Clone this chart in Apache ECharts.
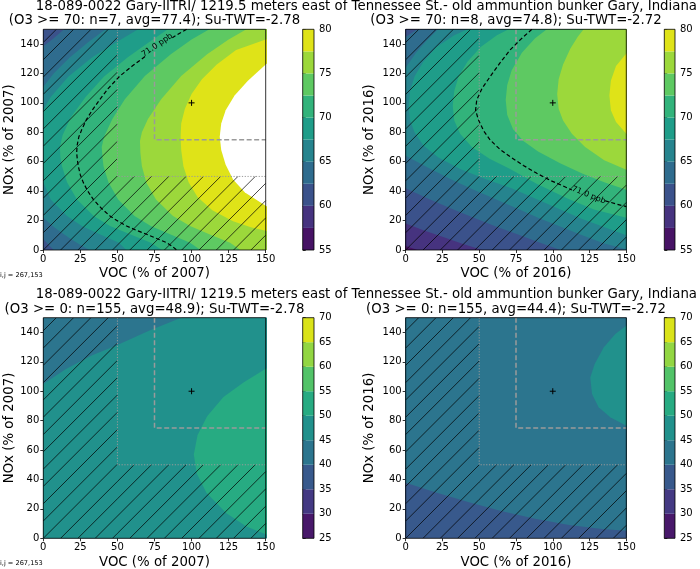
<!DOCTYPE html>
<html><head><meta charset="utf-8">
<script src="https://cdn.jsdelivr.net/npm/echarts@6.0.0/dist/echarts.min.js"></script>
<style>html,body{margin:0;padding:0;background:#fff}#c{width:700px;height:569px}</style>
</head><body><div id="c"></div>
<script>
// ---------- data ----------
const xTicks = [0, 25, 50, 75, 100, 125, 150];
const yTicks = [0, 20, 40, 60, 80, 100, 120, 140];
const levelsHi = [55, 57.5, 60, 62.5, 65, 67.5, 70, 72.5, 75, 77.5, 80];
const levelsAll = [25, 30, 35, 40, 45, 50, 55, 60, 65, 70];
const colorsHi = ["#471365","#46337f","#3b528b","#2f6c8e","#26848e","#1f9d89","#32b37b","#5ec962","#9cd83b","#dfe318"];
const colorsAll = ["#48186a","#443983","#38598c","#2c758e","#21918c","#27ab82","#52c368","#92d642","#dae319"];

const siteName = "18-089-0022 Gary-IITRI/ 1219.5 meters east of Tennessee St.- old ammuntion bunker Gary, Indiana";
const panelTitles = ["(O3 >= 70: n=7, avg=77.4); Su-TWT=-2.78", "(O3 >= 70: n=8, avg=74.8); Su-TWT=-2.72",
                     "(O3 >= 0: n=155, avg=48.9); Su-TWT=-2.78", "(O3 >= 0: n=155, avg=44.4); Su-TWT=-2.72"];
const xNames = ["VOC (% of 2007)", "VOC (% of 2016)", "VOC (% of 2007)", "VOC (% of 2016)"];
const yNames = ["NOx (% of 2007)", "NOx (% of 2016)", "NOx (% of 2007)", "NOx (% of 2016)"];
const contourLabel = "71.0 ppb";
const ijText = "i,j = 267,153";

const fullRect = [[-10,-10],[160,-10],[160,160],[-10,160]];

// Panel A (2007, O3>=70): outlines of regions with O3 >= level
const A_62_5 = [[22,165],[14,150],[7,144],[0,138.5],[-20,120],[-20,20],[0,7.5],[3.5,3.5],[7,0],[12,-10],[200,-10],[200,165]];
const A_65 = [[50,162],[42,150],[30,141],[18,131],[7,120],[0,111],[-20,95],[-20,35],[0,22],[8,15],[17,8.5],[24,4],[31,0],[37,-8],[200,-10],[200,165]];
const A_67_5 = [[72,158],[64,150],[49,141],[33,131],[17,118],[5,104],[0.5,96],[-3,90],[-5.5,78],[-6,68],[-5.5,60],[-2,50],[0,46],[5,34.4],[16,23.1],[26,16.3],[38,10.7],[51,5],[56,0],[62,-8],[200,-10],[200,160]];
const A_70 = [[92,158],[84,150],[71,141],[57,131],[41,118],[28.5,104],[18.5,90],[13,78],[11.2,70],[11.5,63],[12.6,57],[16,46],[22.7,34.4],[34,23.1],[45,16.3],[58.5,10.7],[72.5,5],[80,0],[86,-8],[200,-10],[200,160]];
const A_72_5 = [[122,158],[112,150],[100,143],[86,133],[68.5,118.3],[55,102.4],[46.5,88.8],[41,77],[39.4,70],[40,62],[40.6,57],[44,45.8],[50.5,34.4],[61.5,23.1],[72.5,16.3],[85.5,10.7],[99,5],[106,0],[112,-8],[200,-10],[200,160]];
const A_75 = [[146,158],[137,150],[125,143],[110.5,133],[93,118.3],[79.5,102.4],[70.5,88.8],[66.5,80],[65.2,74],[65.5,66],[66.5,57],[69.5,45.8],[76,34.4],[87.5,23.1],[99,16.3],[112,10.7],[126,5],[133,0],[140,-8],[200,-10],[200,160]];
const A_77_5 = [[165,148],[150,143],[130,136],[117,126],[107,116],[100,106],[95.5,96],[93,86],[92.6,77],[93,68],[94.5,57],[98,46],[104,36],[114,27],[128,19.5],[140,15.5],[150,13],[165,10],[200,-10],[200,160]];
const A_80 = [[165,138],[150,126],[138,115],[129,105],[123,95],[120,86],[119,77],[120,68],[123,58],[128,48],[136,39],[150,30],[165,22],[200,10],[200,150]];
const A_71a = [[96.7,150],[92,147.3],[87,144.3]];
const A_71b = [[68.6,131.5],[60,125],[51.7,118.3],[44,110],[38.2,102.4],[33,95],[29.2,88.8],[26,82],[24,77],[22.8,71],[22.5,66],[23,61],[23.6,57],[25,51],[27,45.8],[30,40],[33.7,34.4],[39,28.5],[45,23.1],[50.5,19.5],[56.2,16.3],[63,13.3],[69.7,10.7],[76.5,7.8],[83.2,5],[87,2.5],[90,0]];
const A_lab = [[76.8,139.2]];

// Panel B (2016, O3>=70)
const B_57_5 = [[-10,8],[0,2.7],[4,1.3],[8,0],[12,-10],[200,-10],[200,200],[-10,200]];
const B_60 = [[-10,22],[0,18],[12,13.5],[25,9],[38,4.5],[52,0],[56,-10],[200,-10],[200,200],[-10,200]];
const B_62_5 = [[12,165],[8,150],[4,147.5],[0,145],[-15,130],[-15,50],[0,42],[15,35],[30,28.5],[45,22.5],[60,16.5],[75,11],[90,5.5],[100,1.8],[105,0],[110,-10],[200,-10],[200,200],[12,200]];
const B_65 = [[28,160],[22,150],[14,142],[7,134],[0,124],[-15,110],[-15,75],[0,64],[15,56],[30,48.5],[45,41.5],[60,35],[75,28.5],[90,22],[105,16],[120,10],[135,4.5],[150,0.5],[165,-5],[200,-10],[200,200],[28,200]];
const B_67_5 = [[50,156],[42,150],[33,146],[21,138],[12,128],[6,118],[3,108],[2,98],[3,88],[6,80],[12,71],[22,63],[37,55],[55,48],[72,42],[95,32],[120,21],[150,10],[165,4],[200,-10],[200,200],[50,200]];
const B_70 = [[76,156],[70,150],[62,146],[51,138],[42,128],[36,118],[33,108],[32,98],[33,88],[37,79],[45,70],[57,62],[71,55],[89,45],[110,35],[128,27.5],[150,22],[165,17],[200,-10],[200,200],[76,200]];
const B_72_5 = [[102,155],[96,150],[88,144],[79,134],[72,122],[69,112],[68,102],[69,92],[73,82],[80,74],[90,67],[105,59],[120,52],[135,46],[150,41],[165,36],[200,-10],[200,200],[102,200]];
const B_75 = [[126,155],[121,150],[117,145],[112,137],[107,126],[104,116],[103,106],[104,96],[107,88],[113,79],[122,70],[135,61],[150,54.6],[165,49],[200,-10],[200,200],[126,200]];
const B_77_5 = [[165,140],[150,133.5],[143,125],[139.5,115],[138.5,105],[139.5,95],[143,87],[150,79],[165,70],[200,-10],[200,200]];
const B_71a = [[85.8,150],[78,143],[71,136],[64,127],[57.4,117.8],[52,110],[48.3,102],[47.5,95],[49.5,88.4],[53,81],[57.4,74.8],[64,68.5],[71,63.4],[80,57.5],[89.2,52.1],[99,47],[106,44],[113,40.8]];
const B_71b = [[135.5,33.5],[143,31.3],[150,29.5]];
const B_lab = [[124.4,37.3]];

// Panel C (2007, all days)
const C_45 = [[-10,98],[0,105],[15,115],[33,124.5],[50,131.5],[72,141.5],[93,150],[110,158],[200,158],[200,-10],[-10,-10]];
const C_50 = [[165,120],[150,115.3],[135,106],[121.5,96],[110.5,83],[104,70],[101.5,57],[103.5,44],[110,31],[123.5,17],[137,8],[150,2.7],[165,-3],[200,-20],[200,150]];

// Panel D (2016, all days)
const D_40 = [[-10,40],[0,37.8],[20,31.3],[43,24.5],[65.5,18.4],[88,13.3],[111,9.1],[133.5,6.3],[150,5.2],[165,5],[165,165],[-10,165]];
const D_45 = [[165,150],[150,144.6],[142.5,138.9],[134.6,129.8],[128.5,118.5],[125.5,109.4],[126.7,98.1],[131.2,89.1],[139.1,82.3],[150,76.6],[165,70],[200,60],[200,160]];

// reference boxes / base point / hatched area
const boxOuter = [[50,150],[50,50],[150,50]];
const boxInner = [[75,150],[75,75],[150,75]];
const basePoint = [[100,100]];
const hatchRects = [[[0,0],[50,150]], [[50,0],[150,50]]];

// ---------- layout (pixels) ----------
const mainGrids = [[43.3,29.3,222.4,220.7],[405.7,29.3,220.6,220.7],[43.3,317.7,222.4,220.6],[405.7,317.7,220.6,220.6]];
const cbGrids = [[302.7,29.3,11.3,220.7],[664.3,29.3,10.7,220.7],[302.7,317.7,11.3,220.6],[664.3,317.7,10.7,220.6]];
const yNameOffset = [34.1, 35.7, 34.1, 35.7];
const FONT = "DejaVu Sans";

const panels = [
  {levels: levelsHi, colors: colorsHi, base: 60, regions: [[62.5,A_62_5],[65,A_65],[67.5,A_67_5],[70,A_70],[72.5,A_72_5],[75,A_75],[77.5,A_77_5],[80,A_80]], c71: [A_71a, A_71b], lab: A_lab, labRot: 0.6},
  {levels: levelsHi, colors: colorsHi, base: 55, regions: [[57.5,B_57_5],[60,B_60],[62.5,B_62_5],[65,B_65],[67.5,B_67_5],[70,B_70],[72.5,B_72_5],[75,B_75],[77.5,B_77_5]], c71: [B_71a, B_71b], lab: B_lab, labRot: -0.38},
  {levels: levelsAll, colors: colorsAll, base: 40, regions: [[45,C_45],[50,C_50]], c71: null},
  {levels: levelsAll, colors: colorsAll, base: 35, regions: [[40,D_40],[45,D_45]], c71: null}
];

function colorFor(P, L) {
  const i = P.levels.indexOf(L);
  return (i >= 0 && i < P.colors.length) ? P.colors[i] : '#ffffff';
}

const grid = [], xAxis = [], yAxis = [], series = [], graphic = [];
mainGrids.forEach(g => grid.push({left: g[0], top: g[1], width: g[2], height: g[3], show: false}));
cbGrids.forEach(g => grid.push({left: g[0], top: g[1], width: g[2], height: g[3], show: false}));

panels.forEach((P, pi) => {
  xAxis.push({gridIndex: pi, type: 'value', min: 0, max: 150, interval: 25,
    axisLine: {show: false}, splitLine: {show: false},
    axisTick: {show: true, inside: false, length: 3, customValues: xTicks, lineStyle: {color: '#000', width: 0.8}},
    axisLabel: {fontSize: 10, color: '#000', margin: 4, fontFamily: FONT, customValues: xTicks}});
  yAxis.push({gridIndex: pi, type: 'value', min: 0, max: 150, interval: 10,
    axisLine: {show: false}, splitLine: {show: false},
    axisTick: {show: true, inside: false, length: 3, customValues: yTicks, lineStyle: {color: '#000', width: 0.8}},
    axisLabel: {fontSize: 10, color: '#000', margin: 4, fontFamily: FONT, customValues: yTicks}});
});
panels.forEach((P, pi) => {
  const L = P.levels;
  xAxis.push({gridIndex: 4 + pi, type: 'value', min: 0, max: 1, show: false});
  yAxis.push({gridIndex: 4 + pi, type: 'value', position: 'right', min: L[0], max: L[L.length - 1], interval: 5,
    axisLine: {show: false}, splitLine: {show: false},
    axisTick: {show: true, inside: false, length: 3, lineStyle: {color: '#000', width: 0.8}},
    axisLabel: {fontSize: 10, color: '#000', margin: 5, fontFamily: FONT}});
});

panels.forEach((P, pi) => {
  const regs = [[P.base, fullRect]].concat(P.regions);
  series.push({type: 'custom', coordinateSystem: 'cartesian2d', xAxisIndex: pi, yAxisIndex: pi, clip: true, silent: true, z: 1,
    data: regs.map((r, i) => [i, 0]),
    renderItem: (params, api) => {
      const r = regs[api.value(0)];
      return {type: 'polygon', shape: {points: r[1].map(pt => api.coord(pt))}, style: {fill: colorFor(P, r[0]), stroke: null}};
    }});
  // hatching over the region outside the reference box
  series.push({type: 'custom', coordinateSystem: 'cartesian2d', xAxisIndex: pi, yAxisIndex: pi, clip: true, silent: true, z: 2,
    data: [[0, 0]],
    renderItem: (params, api) => {
      const s = 17.3;
      const o = api.coord([0, 0]);
      const phase = o[0] + o[1];
      const children = [];
      hatchRects.forEach(r => {
        const p0 = api.coord(r[0]), p1 = api.coord(r[1]);
        const x1 = Math.min(p0[0], p1[0]), x2 = Math.max(p0[0], p1[0]);
        const y1 = Math.min(p0[1], p1[1]), y2 = Math.max(p0[1], p1[1]);
        const kmin = Math.floor((x1 + y1 - phase) / s), kmax = Math.ceil((x2 + y2 - phase) / s);
        for (let k = kmin; k <= kmax; k++) {
          const c = phase + k * s;
          const xa = Math.max(x1, c - y2), xb = Math.min(x2, c - y1);
          if (xb > xa) children.push({type: 'line', shape: {x1: xa, y1: c - xa, x2: xb, y2: c - xb},
            style: {stroke: '#000', lineWidth: 0.8, opacity: 0.9}});
        }
      });
      return {type: 'group', children};
    }});
  series.push({type: 'line', xAxisIndex: pi, yAxisIndex: pi, data: boxOuter, symbol: 'none', silent: true, z: 3,
    lineStyle: {color: '#9a9a9a', width: 1, type: [1.2, 1.6]}});
  series.push({type: 'line', xAxisIndex: pi, yAxisIndex: pi, data: boxInner, symbol: 'none', silent: true, z: 3,
    lineStyle: {color: '#9a9a9a', width: 1.5, type: [5, 2.5]}});
  if (P.c71) {
    P.c71.forEach(seg => series.push({type: 'line', xAxisIndex: pi, yAxisIndex: pi, data: seg, symbol: 'none', silent: true, z: 4,
      lineStyle: {color: '#000', width: 1.2, type: [4, 2.5]}}));
    series.push({type: 'custom', coordinateSystem: 'cartesian2d', xAxisIndex: pi, yAxisIndex: pi, silent: true, z: 5,
      data: P.lab,
      renderItem: (params, api) => {
        const p = api.coord([api.value(0), api.value(1)]);
        return {type: 'text', x: p[0], y: p[1], rotation: P.labRot,
          style: {text: contourLabel, fontSize: 8, fontFamily: FONT, fill: '#000', align: 'center', verticalAlign: 'middle'}};
      }});
  }
  series.push({type: 'custom', coordinateSystem: 'cartesian2d', xAxisIndex: pi, yAxisIndex: pi, silent: true, z: 6,
    data: basePoint,
    renderItem: (params, api) => {
      const p = api.coord([api.value(0), api.value(1)]);
      return {type: 'group', children: [
        {type: 'line', shape: {x1: p[0] - 3, y1: p[1], x2: p[0] + 3, y2: p[1]}, style: {stroke: '#000', lineWidth: 1}},
        {type: 'line', shape: {x1: p[0], y1: p[1] - 3, x2: p[0], y2: p[1] + 3}, style: {stroke: '#000', lineWidth: 1}}]};
    }});
  // colorbar
  const bands = P.levels.slice(0, -1).map((l, i) => [l, P.levels[i + 1], i]);
  series.push({type: 'custom', coordinateSystem: 'cartesian2d', xAxisIndex: 4 + pi, yAxisIndex: 4 + pi, silent: true, z: 1,
    data: bands,
    renderItem: (params, api) => {
      const a = api.coord([0, api.value(1)]), b = api.coord([1, api.value(0)]);
      return {type: 'rect', shape: {x: a[0], y: a[1], width: b[0] - a[0], height: b[1] - a[1]},
        style: {fill: P.colors[api.value(2)], stroke: null}};
    }});
});

// frames, titles, axis names
mainGrids.concat(cbGrids).forEach(g => graphic.push({type: 'rect', z: 100, silent: true,
  shape: {x: g[0], y: g[1], width: g[2], height: g[3]}, style: {fill: null, stroke: '#000', lineWidth: 0.8}}));
mainGrids.forEach((g, i) => {
  const cx = g[0] + g[2] / 2, cy = g[1] + g[3] / 2;
  graphic.push({type: 'text', z: 100, x: cx, y: g[1] - 8.5, style: {text: panelTitles[i], font: '13.3px "' + FONT + '"', fill: '#000', align: 'center', verticalAlign: 'middle'}});
  graphic.push({type: 'text', z: 100, x: cx, y: g[1] + g[3] + 24, style: {text: xNames[i], font: '13.3px "' + FONT + '"', fill: '#000', align: 'center', verticalAlign: 'middle'}});
  graphic.push({type: 'text', z: 100, x: g[0] - yNameOffset[i], y: cy, rotation: Math.PI / 2, style: {text: yNames[i], font: '13.3px "' + FONT + '"', fill: '#000', align: 'center', verticalAlign: 'middle'}});
});
[0, 2].forEach(i => {
  const g = mainGrids[i];
  graphic.push({type: 'text', z: 100, x: 366.4, y: g[1] - 23, style: {text: siteName, font: '13.3px "' + FONT + '"', fill: '#000', align: 'center', verticalAlign: 'middle'}});
  graphic.push({type: 'text', z: 100, x: 0, y: g[1] + g[3] + 25, style: {text: ijText, font: '6.6px "' + FONT + '"', fill: '#000', align: 'left', verticalAlign: 'middle'}});
});

const chart = echarts.init(document.getElementById('c'), null, {renderer: 'canvas'});
chart.setOption({animation: false, backgroundColor: '#fff', grid, xAxis, yAxis, series, graphic});
</script></body></html>
